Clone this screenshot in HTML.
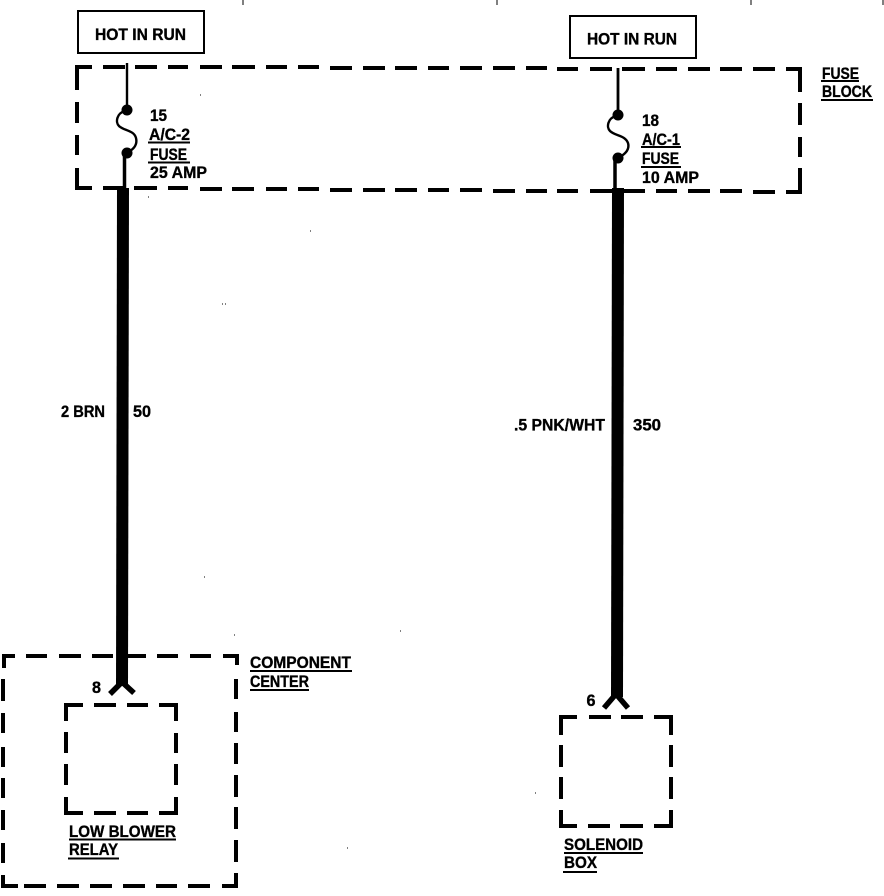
<!DOCTYPE html>
<html>
<head>
<meta charset="utf-8">
<style>
html,body{margin:0;padding:0;background:#fff;width:884px;height:896px;overflow:hidden}
svg{display:block}
text{font-family:"Liberation Sans",sans-serif;font-weight:700;font-size:16.500px;fill:#000;stroke:#000;stroke-width:.35px}
.d{fill:none;stroke:#000;stroke-width:4;shape-rendering:crispEdges}
.u{fill:none;stroke:#000;stroke-width:2;shape-rendering:crispEdges}
</style>
</head>
<body>
<svg width="884" height="896" viewBox="0 0 884 896" xmlns="http://www.w3.org/2000/svg">
<!-- top ticks -->
<path d="M243 0V5M497 0V5M751 0V5M883 0V5" stroke="#000" stroke-width="1.200" fill="none" shape-rendering="crispEdges"/>
<!-- specks -->
<path d="M200 95h1M148 197h1M310 231h1M222 304h1M225 304h1M204 577h1M400 631h1M234 635h1M535 793h1M347 848h1" stroke="#000" stroke-width="1" fill="none" shape-rendering="crispEdges"/>

<!-- fuse block -->
<path class="d" d="M77 90V67H92M103 67H125M135 67H157M168 67H188M200 67H222M232 67H255M266 67H287M298 67H319M330 68H352M363 68H385M395 68H417M428 68H449M460 68H482M493 68H515M526 68H547M557 69H578M590 69H612M622 69H645M656 69H677M688 69H710M720 69H742M753 69H775M786 69H800V92"/>
<path class="d" d="M77 102V123M77 135V155M77 168V188H92M103 188H123M134 188H157M168 188H188M200 189H222M232 189H254M266 189H287M298 189H319M330 190H352M363 190H385M395 190H417M428 190H449M460 190H482M493 191H515M526 191H547M557 191H578M590 191H612M622 191H645M656 191H677M688 191H710M720 191H742M753 192H775M786 192H800V168"/>
<path class="d" d="M800 103V125M800 137V157"/>

<!-- HOT IN RUN boxes -->
<rect x="78" y="11" width="126" height="42" fill="none" stroke="#000" stroke-width="2" shape-rendering="crispEdges"/>
<rect x="570" y="16" width="126" height="42" fill="none" stroke="#000" stroke-width="2" shape-rendering="crispEdges"/>
<text x="95" y="40" textLength="91" lengthAdjust="spacingAndGlyphs">HOT IN RUN</text>
<text x="587" y="44.500" textLength="90" lengthAdjust="spacingAndGlyphs">HOT IN RUN</text>

<!-- left fuse -->
<path d="M127 63V110" stroke="#000" stroke-width="2.400" fill="none"/>
<circle cx="127" cy="110" r="5.500"/>
<path d="M125 111C117 113 115 122 119 126C124 131 134 130 136 138C138 146 132 150 127 153" stroke="#000" stroke-width="2.400" fill="none"/>
<circle cx="127" cy="153" r="5.500"/>
<path d="M124.500 153V190" stroke="#000" stroke-width="3.500" fill="none"/>
<!-- right fuse -->
<path d="M618 68V115" stroke="#000" stroke-width="2.800" fill="none"/>
<circle cx="618" cy="115" r="5.500"/>
<path d="M616 116C608 118 606 127 610 131C615 136 625 135 628 143C630 150 624 155 618 158" stroke="#000" stroke-width="2.400" fill="none"/>
<circle cx="618" cy="158" r="5.500"/>
<path d="M615 158V190" stroke="#000" stroke-width="3.500" fill="none"/>

<!-- wires -->
<polygon points="117,188 129,188 128,686 116,686"/>
<polygon points="612,188 624,188 623,697 611,697"/>
<path d="M122 682L110 694M122 682L134 693" stroke="#000" stroke-width="5.500" fill="none"/>
<path d="M616 694L604 708M616 694L628 708" stroke="#000" stroke-width="5.500" fill="none"/>

<!-- component center -->
<path class="d" d="M4 668V656H15M26 656H47M59 656H81M92 656H113M127 656H146M157 656H178M190 656H211M223 656H237V665"/>
<path class="d" d="M3 679V701M3 713V733M3 747V767M3 778V798M3 810V830M3 843V863M3 875V886H18M24 886H46M57 886H79M90 886H112M123 886H145M156 886H177M188 886H210M222 886H236V873"/>
<path class="d" d="M236 679V699M236 712V732M236 743V764M236 775V797M236 807V829M236 840V862"/>

<!-- relay -->
<path class="d" d="M66 721V705H83M94 705H116M127 705H148M159 705H176V721"/>
<path class="d" d="M66 732V753M66 764V785M66 797V813H83M94 813H116M127 813H148M159 813H176V797"/>
<path class="d" d="M176 733V753M176 764V785"/>

<!-- solenoid -->
<path class="d" d="M561 735V717H577M589 717H611M621 717H643M654 717H671V735"/>
<path class="d" d="M561 745V767M561 777V799M561 810V826H577M588 826H610M620 826H643M654 826H671V810"/>
<path class="d" d="M671 745V767M671 777V799"/>

<!-- fuse labels -->
<text x="150" y="121" textLength="17" lengthAdjust="spacingAndGlyphs">15</text>
<text x="149" y="140" textLength="41" lengthAdjust="spacingAndGlyphs">A/C-2</text>
<path class="u" d="M148 142.500H190"/>
<text x="150" y="160" textLength="37" lengthAdjust="spacingAndGlyphs">FUSE</text>
<path class="u" d="M148 162.500H190"/>
<text x="150" y="178" textLength="57" lengthAdjust="spacingAndGlyphs">25 AMP</text>

<text x="642" y="126" textLength="17" lengthAdjust="spacingAndGlyphs">18</text>
<text x="642" y="145" textLength="38" lengthAdjust="spacingAndGlyphs">A/C-1</text>
<path class="u" d="M641 147H681"/>
<text x="642" y="164" textLength="37" lengthAdjust="spacingAndGlyphs">FUSE</text>
<path class="u" d="M641 167H681"/>
<text x="642" y="183" textLength="57" lengthAdjust="spacingAndGlyphs">10 AMP</text>

<text x="822" y="79" textLength="37" lengthAdjust="spacingAndGlyphs">FUSE</text>
<path class="u" d="M821 81H859"/>
<text x="822" y="97" textLength="50" lengthAdjust="spacingAndGlyphs">BLOCK</text>
<path class="u" d="M821 100H873"/>

<!-- wire labels -->
<text x="61" y="417" textLength="44" lengthAdjust="spacingAndGlyphs">2 BRN</text>
<text x="133" y="417" textLength="18" lengthAdjust="spacingAndGlyphs">50</text>
<text x="514" y="430.500" textLength="91" lengthAdjust="spacingAndGlyphs">.5 PNK/WHT</text>
<text x="633" y="430.500" textLength="28" lengthAdjust="spacingAndGlyphs">350</text>

<!-- bottom labels -->
<text x="250" y="668" textLength="101" lengthAdjust="spacingAndGlyphs">COMPONENT</text>
<path class="u" d="M250 671H352"/>
<text x="250" y="687" textLength="59" lengthAdjust="spacingAndGlyphs">CENTER</text>
<path class="u" d="M250 690H309"/>
<text x="92" y="693" textLength="9" lengthAdjust="spacingAndGlyphs">8</text>
<text x="586.500" y="706" textLength="9" lengthAdjust="spacingAndGlyphs">6</text>
<text x="69" y="837" textLength="107" lengthAdjust="spacingAndGlyphs">LOW BLOWER</text>
<path class="u" d="M69 839.500H176"/>
<text x="69" y="855" textLength="49" lengthAdjust="spacingAndGlyphs">RELAY</text>
<path class="u" d="M68 858.500H119"/>
<text x="564" y="850" textLength="79" lengthAdjust="spacingAndGlyphs">SOLENOID</text>
<path class="u" d="M564 853H643"/>
<text x="564" y="868" textLength="33" lengthAdjust="spacingAndGlyphs">BOX</text>
<path class="u" d="M563 872H597"/>
</svg>
</body>
</html>
